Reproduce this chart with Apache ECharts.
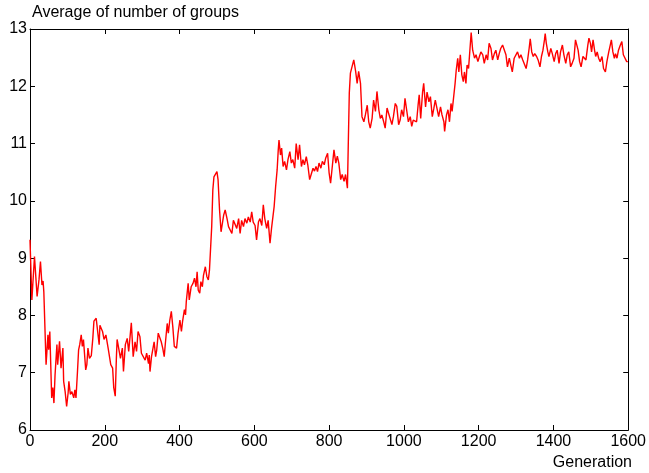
<!DOCTYPE html>
<html>
<head>
<meta charset="utf-8">
<script src="https://cdn.jsdelivr.net/npm/echarts@6/dist/echarts.min.js"></script>
<style>
html,body{margin:0;padding:0;background:#fff;}
#chart{width:649px;height:473px;}
</style>
</head>
<body>
<div id="chart"></div>
<script>
var yTitle = 'Average of number of groups';
var xTitle = 'Generation';
var xTicks = [0, 200, 400, 600, 800, 1000, 1200, 1400, 1600];
var yTicks = [6, 7, 8, 9, 10, 11, 12, 13];

var generations = [
0,5,12,19,24,28,32,35,37,43,48,50,53,58,61,64,67,72,74,79,83,88,90,94,98,102,104,108,112,117,120,123,127,130,133,137,140,143,149,152,155,159,164,168,171,177,182,185,187,194,198,203,209,216,221,224,228,231,233,238,242,247,250,255,260,264,271,
276,281,285,289,294,298,303,308,312,317,319,321,325,332,336,339,343,347,351,355,359,362,367,370,374,378,382,386,392,396,401,405,408,413,416,418,423,426,431,436,440,444,447,450,454,457,461,464,469,473,477,480,484,486,489,492,500,503,507,511,
518,522,527,531,536,540,544,549,553,558,562,566,571,575,580,584,589,593,597,602,606,611,615,620,624,628,633,637,642,646,650,653,657,661,664,666,670,673,677,681,686,690,695,699,703,708,712,717,721,726,730,734,739,743,748,752,757,761,765,
769,773,778,782,787,791,796,800,804,809,813,818,822,826,831,835,840,844,849,851,854,857,862,866,871,875,879,884,888,893,897,902,906,910,915,919,924,928,933,937,941,946,950,955,959,963,968,972,977,981,986,990,994,999,1003,1008,1012,1017,1021,1025,
1034,1038,1041,1045,1050,1053,1058,1062,1067,1071,1076,1080,1084,1089,1093,1098,1102,1107,1109,1114,1118,1122,1126,1129,1134,1137,1140,1144,1147,1151,1155,1159,1162,1166,1169,1173,1177,1180,1184,1189,1193,1198,1202,1206,1211,1215,1220,1224,1228,1233,1237,1242,1246,1251,1255,1259,1264,1268,1273,1277,1282,1286,1290,1295,
1300,1304,1309,1313,1318,1322,1327,1331,1335,1338,1342,1346,1350,1355,1359,1364,1368,1372,1376,1378,1381,1385,1388,1393,1397,1402,1406,1410,1415,1419,1424,1428,1433,1437,1441,1446,1450,1455,1459,1462,1466,1470,1474,1479,1483,1487,1492,1495,1499,1502,1506,1510,1513,1517,1521,1525,1530,1534,1539,1543,1548,1552,1555,1559,1563,1566,1570,1574,1579,1583,1587,1592,1596,1599
];

var groupsAvg = [
9.32,8.27,9.03,8.33,8.62,8.94,8.53,8.60,8.41,7.14,7.66,7.40,7.72,6.56,6.74,6.47,6.96,7.49,7.14,7.55,7.08,7.43,6.85,6.67,6.41,6.65,6.85,6.62,6.67,6.56,6.70,6.56,7.02,7.40,7.49,7.66,7.46,7.58,7.05,7.14,7.43,7.25,7.30,7.60,7.90,7.95,7.66,7.49,7.83,7.72,7.58,7.66,7.43,7.14,7.08,6.74,6.59,7.25,7.58,7.60,7.25,7.43,7.02,7.49,7.60,7.37,7.87,
7.28,7.54,7.37,7.72,7.63,7.34,7.37,7.22,7.34,7.16,7.31,7.02,7.28,7.54,7.28,7.40,7.69,7.72,7.54,7.43,7.28,7.51,7.86,7.69,7.92,8.07,7.80,7.46,7.43,7.69,7.92,7.72,7.89,8.10,8.01,8.24,8.56,8.27,8.50,8.56,8.65,8.50,8.76,8.44,8.39,8.59,8.50,8.70,8.85,8.68,8.62,8.79,8.76,9.55,10.19,10.42,10.51,10.37,9.84,9.46,
9.75,9.84,9.69,9.55,9.57,9.43,9.66,9.69,9.52,9.69,9.43,9.66,9.55,9.69,9.61,9.72,9.63,9.81,9.63,9.57,9.32,9.63,9.69,9.57,9.93,9.69,9.52,9.66,9.26,9.52,9.55,9.90,10.25,10.54,10.89,11.06,10.80,10.92,10.60,10.69,10.54,10.72,10.86,10.66,10.72,10.57,11.00,10.72,10.98,10.60,10.72,10.63,10.77,10.63,10.37,10.46,10.57,10.52,10.60,
10.51,10.66,10.57,10.69,10.63,10.75,10.83,10.49,10.31,10.63,10.89,10.66,10.78,10.66,10.37,10.46,10.34,10.46,10.22,10.89,11.88,12.23,12.26,12.46,12.26,12.05,12.26,12.05,11.47,11.38,11.50,11.67,11.38,11.27,11.44,11.76,11.56,11.91,11.59,11.44,11.50,11.38,11.27,11.62,11.53,11.50,11.33,11.47,11.70,11.65,11.33,11.41,11.59,11.47,11.79,11.56,11.38,11.47,11.30,11.41,
11.38,11.67,11.85,11.44,11.90,12.05,11.64,11.90,11.73,11.82,11.47,11.61,11.76,11.79,11.47,11.64,11.50,11.38,11.21,11.50,11.59,11.38,11.70,11.56,11.59,12.05,12.28,12.49,12.25,12.55,12.20,12.08,12.25,12.05,12.37,12.31,12.34,12.94,12.63,12.49,12.55,12.43,12.52,12.60,12.55,12.40,12.55,12.46,12.75,12.66,12.46,12.57,12.63,12.46,12.57,12.66,12.72,12.69,12.55,12.34,12.49,12.37,12.25,12.49,
12.52,12.60,12.49,12.55,12.46,12.49,12.31,12.46,12.66,12.83,12.60,12.52,12.57,12.52,12.46,12.34,12.52,12.63,12.81,12.92,12.75,12.60,12.52,12.66,12.57,12.43,12.57,12.63,12.40,12.60,12.72,12.55,12.40,12.55,12.60,12.34,12.40,12.49,12.81,12.84,12.63,12.43,12.34,12.52,12.55,12.46,12.72,12.84,12.75,12.60,12.81,12.63,12.52,12.60,12.49,12.43,12.52,12.31,12.25,12.43,12.60,12.72,12.81,12.60,12.49,12.57,12.49,12.63,12.72,12.78,12.55,12.52,12.43,12.43
];

var seriesData = generations.map(function (g, i) { return [g, groupsAvg[i]]; });

var FONT = '"Liberation Sans", Arial, Helvetica, sans-serif';
var FS = 16;
var xMin = xTicks[0], xMax = xTicks[xTicks.length - 1], xStep = xTicks[1] - xTicks[0];
var yMin = yTicks[0], yMax = yTicks[yTicks.length - 1], yStep = yTicks[1] - yTicks[0];

function axisBase(showLabel) {
  return {
    type: 'value',
    axisLine: { show: true, onZero: false, lineStyle: { color: '#000', width: 1 } },
    axisTick: { show: true, inside: true, length: 5, lineStyle: { color: '#000', width: 1 } },
    axisLabel: { show: showLabel, color: '#000', fontSize: FS, fontFamily: FONT,
                 formatter: function (v) { return String(v); } },
    splitLine: { show: false }
  };
}

var xBottom = Object.assign(axisBase(true), { position: 'bottom', min: xMin, max: xMax, interval: xStep });
xBottom.axisLabel.margin = 4;
var xTop = Object.assign(axisBase(false), { position: 'top', min: xMin, max: xMax, interval: xStep });
var yLeft = Object.assign(axisBase(true), { position: 'left', min: yMin, max: yMax, interval: yStep });
yLeft.axisLabel.margin = 3;
var yRight = Object.assign(axisBase(false), { position: 'right', min: yMin, max: yMax, interval: yStep });

var chart = echarts.init(document.getElementById('chart'), null, { renderer: 'canvas' });
chart.setOption({
  animation: false,
  backgroundColor: '#fff',
  title: [
    { text: yTitle, left: 27, top: 0, textStyle: { fontSize: FS, fontWeight: 'normal', color: '#000', fontFamily: FONT } },
    { text: xTitle, right: 12, top: 450, textStyle: { fontSize: FS, fontWeight: 'normal', color: '#000', fontFamily: FONT } }
  ],
  grid: { left: 30, right: 16, top: 29, bottom: 43, containLabel: false },
  xAxis: [xBottom, xTop],
  yAxis: [yLeft, yRight],
  series: [{
    type: 'line',
    xAxisIndex: 0,
    yAxisIndex: 0,
    data: seriesData,
    showSymbol: false,
    symbol: 'none',
    lineStyle: { color: '#ff0000', width: 1.4 },
    itemStyle: { color: '#ff0000' }
  }]
});
</script>
</body>
</html>
